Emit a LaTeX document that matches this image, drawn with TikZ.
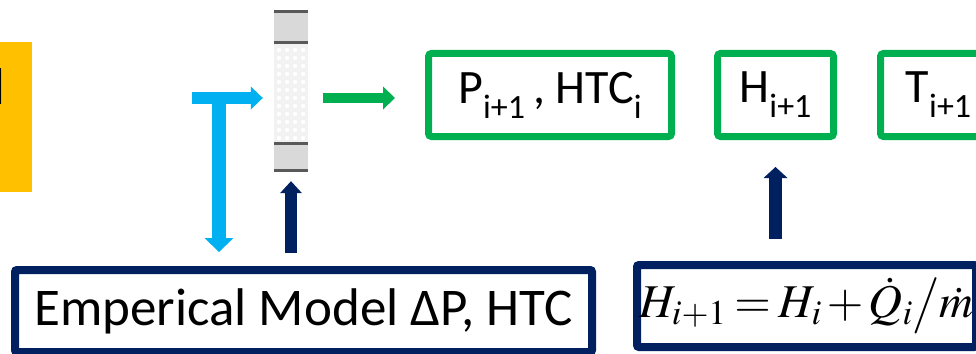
\documentclass[tikz,border=0pt]{standalone}
\usepackage[no-math]{fontspec}
\usepackage{mathptmx}
\setmainfont{Carlito}
\usetikzlibrary{arrows.meta, positioning, calc}

\definecolor{inamber}{HTML}{FFC000}
\definecolor{flowblue}{HTML}{00B0F0}
\definecolor{outgreen}{HTML}{00B050}
\definecolor{modelnavy}{HTML}{002060}

\newcommand{\lowidx}[1]{\raisebox{-0.31em}{\fontsize{34}{34}\selectfont #1}}

\tikzset{
  greenbox/.style={draw=outgreen, line width=7pt, rounded corners=3pt, inner sep=0pt,
    minimum height=83pt, font=\fontsize{48}{56}\selectfont},
  navybox/.style={draw=modelnavy, line width=8pt, rounded corners=2pt, inner sep=0pt,
    minimum height=82pt},
  fathead/.style n args={2}{-{Triangle[length=#1, width=#2, line width=0pt]}}
}

\begin{document}
\begin{tikzpicture}[x=1pt, y=-1pt]
    \useasboundingbox (0,0) rectangle (976,353);
    \clip (0,0) rectangle (976,353);

    % input box, cut off at the left edge
    \node[fill=inamber, minimum width=100pt, minimum height=150pt, inner sep=0pt] (inbox) at (-18,117) {};
    \node[anchor=base east, inner sep=0pt, font=\fontsize{56}{60}\selectfont] (intext) at (6,104) {H};

    % packed bed column
    \node[minimum width=34pt, minimum height=162pt, inner sep=0pt] (bed) at (291,91) {};
    \fill[gray!30] (274,10) rectangle (308,44);
    \fill[gray!10] (274,44) rectangle (308,142);
    \foreach \y in {50,58,...,138}
        \foreach \x in {279,287,...,303}
            \fill[white] (\x,\y) circle (2.2pt);
    \fill[gray!30] (274,142) rectangle (308,172);
    \foreach \y in {11.5,42.5,143.5,170.5}
        \draw[line width=3pt, black!65] (274,\y) -- (308,\y);

    % results
    \node[greenbox, minimum width=243pt] (pbox) at (550,95) {P\lowidx{i+1}\,, HTC\lowidx{i}};
    \node[greenbox, minimum width=116pt] (hbox) at (775.5,95) {H\lowidx{i+1}};
    \node[greenbox, minimum width=116pt] (tbox) at (938.5,95) {T\lowidx{i+1}};

    % models
    \node[navybox, minimum width=577pt, font=\fontsize{53}{60}\selectfont] (model) at (303.5,311) {Emperical Model ΔP, HTC};
    \node[navybox, minimum width=339pt, font=\fontsize{47}{56}\selectfont] (enthalpy) at (806.5,306)
        {\thickmuskip=3mu \medmuskip=2mu $H_{i+1} = H_{i} + \dot{Q}_i \big/ \dot{m}$};

    % connectors
    \coordinate (feed) at (192,98);
    \coordinate (tee) at (219,98);
    \draw[flowblue, line width=12pt, fathead={12pt}{23pt}, shorten >=11pt] (feed) -- (feed -| bed.west);
    \draw[flowblue, line width=14pt, fathead={14pt}{29pt}, shorten >=14pt] (tee) -- (tee |- model.north);
    \draw[modelnavy, line width=12pt, fathead={12pt}{22pt}, shorten <=13pt, shorten >=9pt] (bed.south |- model.north) -- (bed.south);
    \draw[outgreen, line width=10pt, fathead={12pt}{23pt}, shorten <=15pt, shorten >=30pt] (bed.east |- feed) -- (pbox.west |- feed);
    \draw[modelnavy, line width=13pt, fathead={11pt}{24pt}, shorten <=22pt, shorten >=27pt] (hbox.south |- enthalpy.north) -- (hbox.south);
\end{tikzpicture}
\end{document}
